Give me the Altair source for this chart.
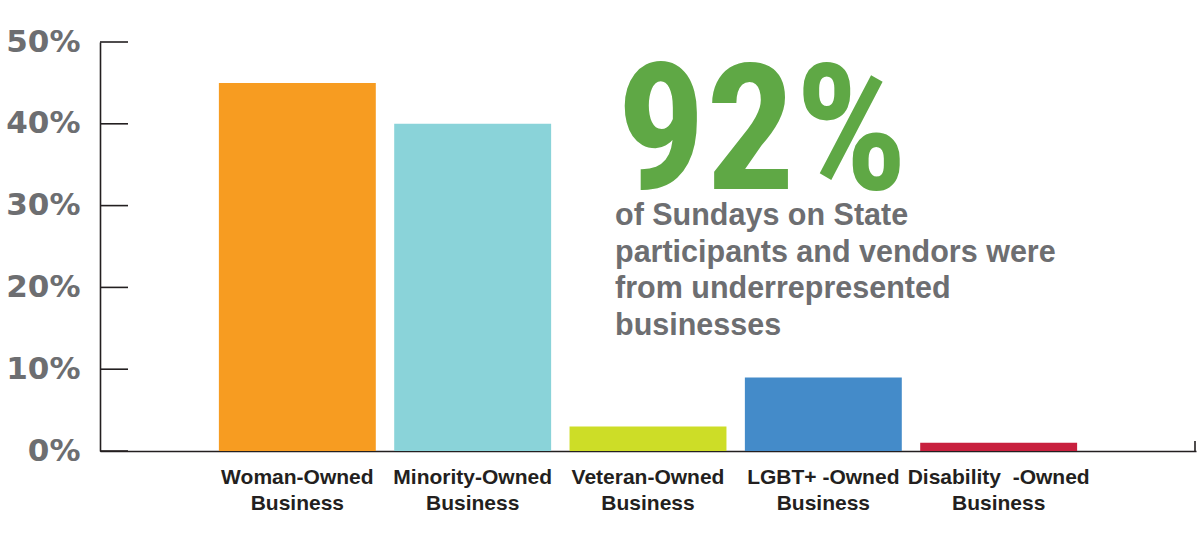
import altair as alt
import pandas as pd

categories = ["Woman-Owned|Business", "Minority-Owned|Business", "Veteran-Owned|Business",
              "LGBT+ -Owned|Business", "Disability\u00a0\u00a0-Owned|Business"]
values = [45, 40, 3, 9, 1]
colors = ["#f79c21", "#8ad3d9", "#cddd27", "#448bc9", "#c8203e"]
y_ticks = [0, 10, 20, 30, 40, 50]
big_stat = ["92%"]
note_text = ["of Sundays on State\nparticipants and vendors were\nfrom underrepresented\nbusinesses"]

df = pd.DataFrame({"cat": categories, "val": values})
ticks_df = pd.DataFrame({"t": y_ticks})
stat_df = pd.DataFrame({"s": big_stat})
note_df = pd.DataFrame({"n": note_text})

W, H = 1096, 409
ink = "#231f20"
gray = "#6d6e71"

yscale = alt.Scale(domain=[0, 50], nice=False)
xscale = alt.Scale(domain=categories, paddingInner=0.105, paddingOuter=0.678)

bars = alt.Chart(df).mark_bar().encode(
    x=alt.X("cat:N", scale=xscale, sort=categories, title=None,
            axis=alt.Axis(labelAngle=0, ticks=False, domain=True, domainColor=ink, domainWidth=1.6,
                          labelExpr="split(datum.label, '|')", labelFont="Liberation Sans",
                          labelFontWeight="bold", labelFontSize=21, labelColor=ink,
                          labelLineHeight=26, labelPadding=15, labelLimit=300, grid=False)),
    y=alt.Y("val:Q", scale=yscale, title=None,
            axis=alt.Axis(values=y_ticks, ticks=False, domain=True, domainColor=ink, domainWidth=1.6,
                          labelExpr="datum.value + '%'", labelFont="DejaVu Sans",
                          labelFontWeight="bold", labelFontSize=31, labelColor=gray,
                          labelPadding=20, labelBaseline="middle", grid=False)),
    color=alt.Color("cat:N", scale=alt.Scale(domain=categories, range=colors), legend=None),
)

tick_rules = alt.Chart(ticks_df).mark_rule(color=ink, strokeWidth=1.6).encode(
    y=alt.Y("t:Q", scale=yscale),
    x=alt.value(0), x2=alt.value(28),
)

end_tick = alt.Chart(ticks_df.head(1)).mark_rule(color=ink, strokeWidth=1.6).encode(
    x=alt.value(W - 1), y=alt.value(H - 10), y2=alt.value(H),
)

stat = alt.Chart(stat_df).mark_text(
    font="Roboto Condensed, Roboto", fontWeight="bold",
    fontSize=176, color="#5fa845", align="left", baseline="alphabetic",
).encode(text="s:N", x=alt.value(517), y=alt.value(147))

note = alt.Chart(note_df).mark_text(
    font="Liberation Sans", fontWeight="bold", fontSize=30.5, color=gray,
    align="left", baseline="alphabetic", lineBreak="\n", lineHeight=36.7,
).encode(text="n:N", x=alt.value(515), y=alt.value(183))

chart = alt.layer(bars, tick_rules, end_tick, stat, note).properties(
    width=W, height=H, background="white",
    autosize=alt.AutoSizeParams(type="none"),
    padding={"left": 100, "top": 42, "right": 4, "bottom": 94},
).configure_view(strokeWidth=0)

chart.save("out.html", embed_options={"renderer": "svg", "actions": False})
